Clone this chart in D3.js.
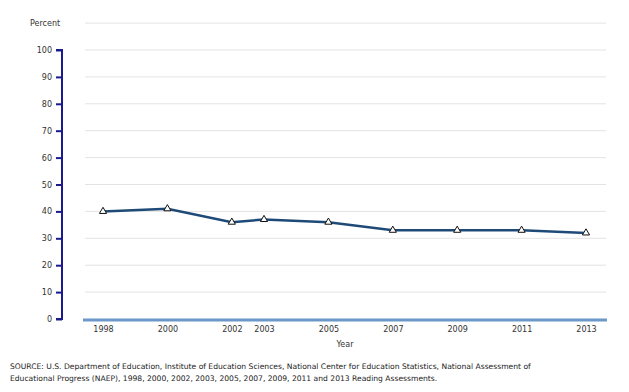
<!DOCTYPE html>
<html><head><meta charset="utf-8">
<script src="https://cdn.jsdelivr.net/npm/d3@7"></script>
<style>body{margin:0;background:#fff}text{font-family:Verdana,"DejaVu Sans",sans-serif}</style>
</head><body><svg id="c" width="629" height="392"></svg>
<script>
const years = [1998, 2000, 2002, 2003, 2005, 2007, 2009, 2011, 2013];
const values = [40, 41, 36, 37, 36, 33, 33, 33, 32];
const yTicks = [0, 10, 20, 30, 40, 50, 60, 70, 80, 90, 100];
const sourceLines = [
  "SOURCE: U.S. Department of Education, Institute of Education Sciences, National Center for Education Statistics, National Assessment of",
  "Educational Progress (NAEP), 1998, 2000, 2002, 2003, 2005, 2007, 2009, 2011 and 2013 Reading Assessments."
];
const svg = d3.select("#c");
const x = d3.scaleLinear().domain([1998, 2013]).range([103, 586]);
const y = d3.scaleLinear().domain([0, 100]).range([319, 50]);

// gridlines
svg.append("g").selectAll("line").data(yTicks.filter(d => d > 0).concat([110])).join("line")
  .attr("x1", 85).attr("x2", 606).attr("y1", d => y(d)).attr("y2", d => y(d))
  .attr("stroke", "#e3e3e3").attr("stroke-width", 1);

// y axis
const ya = svg.append("g").attr("transform", "translate(62,0)")
  .call(d3.axisLeft(y).tickValues(yTicks).tickSize(6).tickPadding(4));
ya.select(".domain").attr("stroke", "#1a1a8c").attr("stroke-width", 2).attr("d", `M-6,${y(100)}H0V${y(0)}H-6`);
ya.selectAll(".tick line").attr("stroke", "#1a1a8c").attr("stroke-width", 2);
ya.selectAll(".tick text").attr("fill", "#333").style("font-size", "8px").style("font-family", "Verdana,'DejaVu Sans',sans-serif");

// baseline
svg.append("line").attr("x1", 83).attr("x2", 607).attr("y1", 320).attr("y2", 320)
  .attr("stroke", "#6b97c9").attr("stroke-width", 3);

// x axis labels
const xa = svg.append("g").attr("transform", "translate(0,322)")
  .call(d3.axisBottom(x).tickValues(years).tickFormat(d3.format("d")).tickSize(0).tickPadding(4));
xa.select(".domain").remove();
xa.selectAll(".tick text").attr("fill", "#333").style("font-size", "8px").style("font-family", "Verdana,'DejaVu Sans',sans-serif");

// line
const data = years.map((yr, i) => ({yr, v: values[i]}));
svg.append("path").datum(data)
  .attr("d", d3.line().x(d => x(d.yr)).y(d => y(d.v)))
  .attr("fill", "none").attr("stroke", "#1f4a78").attr("stroke-width", 2.5);
svg.append("g").selectAll("path").data(data).join("path")
  .attr("d", d3.symbol(d3.symbolTriangle, 22))
  .attr("transform", d => `translate(${x(d.yr)},${y(d.v)})`)
  .attr("fill", "#fff").attr("stroke", "#111").attr("stroke-width", 1);

// titles
svg.append("text").attr("x", 30).attr("y", 26).text("Percent").attr("fill", "#333").style("font-size", "8px");
svg.append("text").attr("x", 345).attr("y", 347).attr("text-anchor", "middle").text("Year").attr("fill", "#333").style("font-size", "8px");
svg.selectAll(".src").data(sourceLines).join("text").attr("class", "src")
  .attr("x", 10).attr("y", (d, i) => 369 + i * 12).text(d => d)
  .attr("fill", "#222").style("font-size", "7.6px");
</script></body></html>
